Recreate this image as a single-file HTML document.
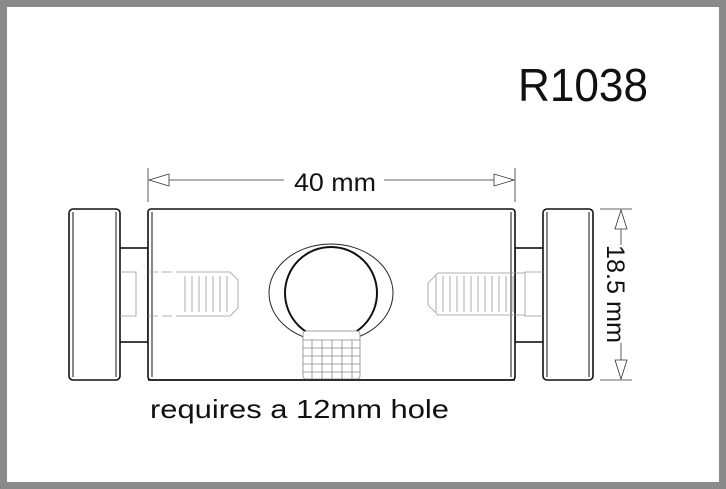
<!DOCTYPE html>
<html><head><meta charset="utf-8"><style>
html,body{margin:0;padding:0;background:#fff;}
svg{display:block;}
text{font-family:"Liberation Sans",sans-serif;fill:#111;}
</style></head><body>
<svg width="726" height="489" viewBox="0 0 726 489" xmlns="http://www.w3.org/2000/svg">
<rect x="0" y="0" width="726" height="489" fill="#fff"/>
<rect x="3.5" y="3.5" width="719" height="482" fill="none" stroke="#8a8a8a" stroke-width="7"/>
<text x="518" y="101" font-size="46" textLength="130" lengthAdjust="spacingAndGlyphs">R1038</text>

<g stroke="#333" stroke-width="0.8" fill="none">
<line x1="148" y1="168" x2="148" y2="202"/>
<line x1="515" y1="168" x2="515" y2="202"/>
<line x1="168" y1="180" x2="284" y2="180"/>
<line x1="384" y1="180" x2="495" y2="180"/>
<polygon points="149,180 169,174 169,186" fill="#fff"/>
<polygon points="514,180 494,174 494,186" fill="#fff"/>
<line x1="600" y1="209" x2="632" y2="209"/>
<line x1="600" y1="380" x2="632" y2="380"/>
<line x1="621" y1="228" x2="621" y2="245"/>
<line x1="621" y1="343" x2="621" y2="360"/>
<polygon points="621,210 615,229 627,229" fill="#fff"/>
<polygon points="621,379 615,360 627,360" fill="#fff"/>
</g>
<text x="335" y="191" font-size="25" text-anchor="middle" textLength="82" lengthAdjust="spacingAndGlyphs">40 mm</text>
<text transform="translate(607,294) rotate(90)" font-size="25" text-anchor="middle" textLength="98" lengthAdjust="spacingAndGlyphs">18.5 mm</text>
<text x="150" y="418" font-size="26" textLength="299" lengthAdjust="spacingAndGlyphs">requires a 12mm hole</text>

<g stroke="#111" stroke-width="1.6" fill="#fff">
<rect x="119" y="248" width="29" height="94"/>
<rect x="515" y="248" width="29" height="94"/>
<rect x="69" y="209" width="51" height="171" rx="4"/>
<rect x="543" y="209" width="50" height="171" rx="4"/>
<rect x="148" y="209" width="367" height="171" rx="3"/>
</g>
<g stroke="#111" stroke-width="1" fill="none">
<line x1="73" y1="212" x2="73" y2="377"/>
<line x1="116" y1="212" x2="116" y2="377"/>
<line x1="152" y1="212" x2="152" y2="377"/>
<line x1="511" y1="212" x2="511" y2="377"/>
<line x1="547" y1="212" x2="547" y2="377"/>
<line x1="589" y1="212" x2="589" y2="377"/>
</g>
<g stroke="#999" stroke-width="0.8" fill="none">
<path d="M120,272 H136 V316 H120" />
<path d="M148,272 H185 M148,316 H185" stroke-dasharray="10,4"/>
<path d="M185,272 H230 L238,280 V308 L230,316 H185" />
<path d="M185,276 V312 M192,276 V312 M199,276 V312 M206,276 V312 M213,276 V312 M220,276 V312 M227,276 V312"/>
<path d="M543,272 H525 V316 H543"/>
<path d="M525,273 H438 L428,283 V305 L438,315 H525"/>
<path d="M436,276 V312 M443,276 V312 M450,276 V312 M457,276 V312 M464,276 V312 M471,276 V312 M478,276 V312 M485,276 V312 M492,276 V312 M499,276 V312 M506,276 V312 M513,276 V312"/>
</g>
<ellipse cx="331" cy="293" rx="62" ry="49" fill="none" stroke="#222" stroke-width="1"/>
<circle cx="331" cy="293" r="46" fill="#fff" stroke="#111" stroke-width="2"/>
<g stroke="#888" stroke-width="0.8" fill="none">
<rect x="303" y="331" width="57" height="48" rx="3" fill="#fff"/>
<path d="M303,340 H360 M303,348 H360 M303,356 H360 M303,364 H360 M303,372 H360"/>
<path d="M312,340 V379 M322,340 V379 M332,340 V379 M342,340 V379 M352,340 V379"/>
</g>
<line x1="148" y1="380" x2="515" y2="380" stroke="#111" stroke-width="1.6"/>
</svg>
</body></html>
